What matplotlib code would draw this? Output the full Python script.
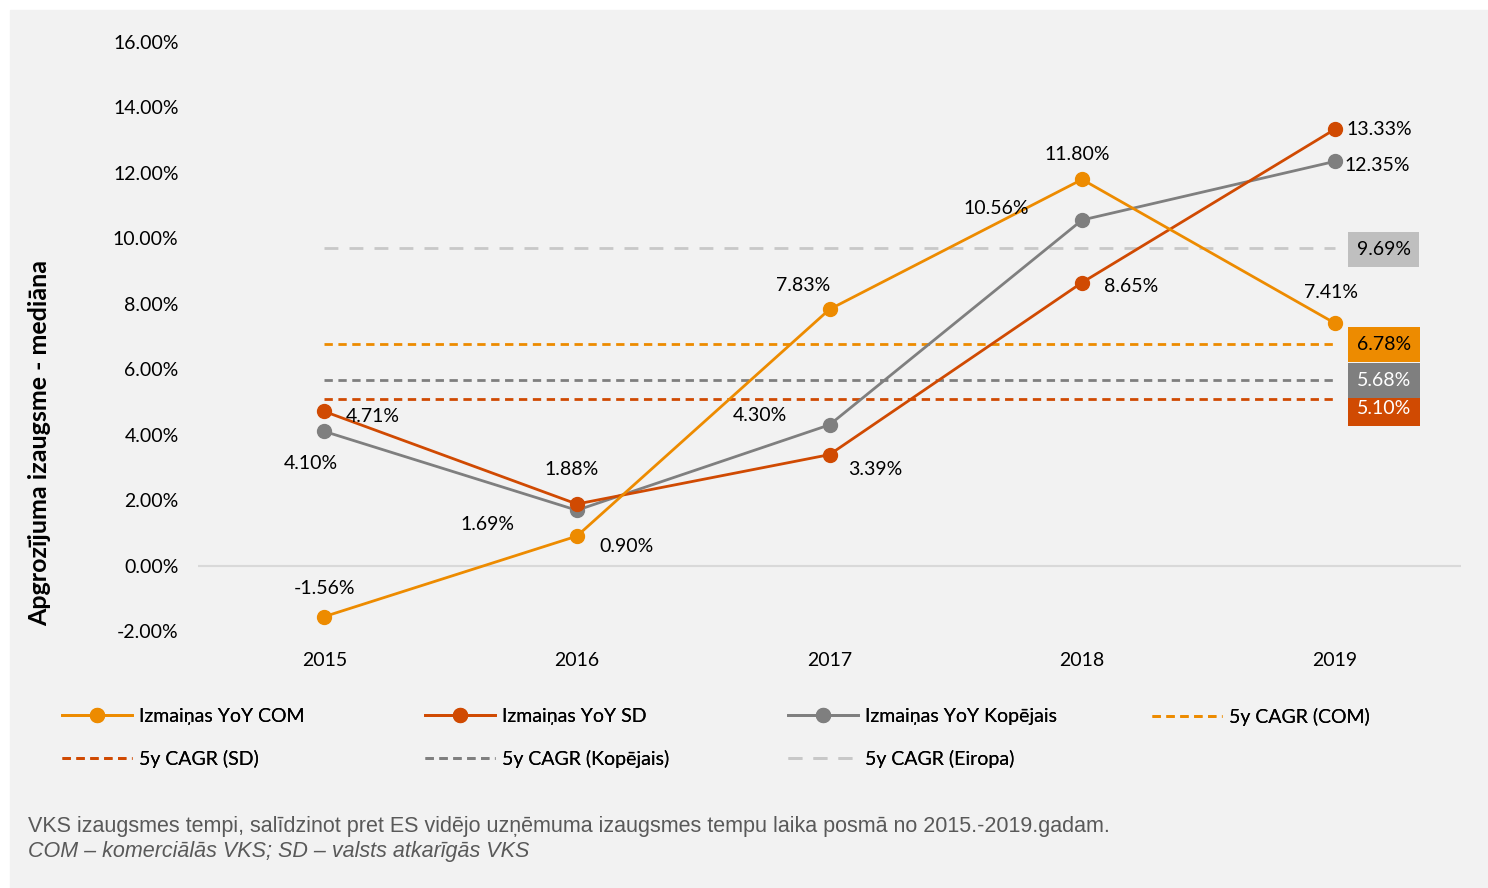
import matplotlib
matplotlib.use("Agg")
import matplotlib.pyplot as plt
from matplotlib.patches import Rectangle
from matplotlib.lines import Line2D

# ---- data ----
years = ["2015", "2016", "2017", "2018", "2019"]
yoy_com = [-1.56, 0.90, 7.83, 11.80, 7.41]
yoy_sd = [4.71, 1.88, 3.39, 8.65, 13.33]
yoy_total = [4.10, 1.69, 4.30, 10.56, 12.35]
cagr_com = 6.78
cagr_sd = 5.10
cagr_total = 5.68
cagr_europe = 9.69
y_ticks = [-2, 0, 2, 4, 6, 8, 10, 12, 14, 16]

ORANGE = "#ed8b00"
RED = "#d04a02"
GREY = "#7f7f7f"
LIGHT = "#c8c8c8"
BG = "#f2f2f2"
FONT = ["Lato", "DejaVu Sans"]
plt.rcParams["font.family"] = FONT

W, H = 1488, 888
fig = plt.figure(figsize=(W / 100, H / 100), dpi=100, facecolor="white")
fig.patches.append(Rectangle((10 / W, 0), 1 - 10 / W, 1 - 10 / H,
                             transform=fig.transFigure, color=BG, zorder=-10))

def fx(px):
    return px / W

def fy(py):
    return 1 - py / H

ax = fig.add_axes([fx(198), fy(631), fx(1461) - fx(198), fy(42) - fy(631)])
ax.set_facecolor("none")
x = list(range(len(years)))
ax.set_xlim(-0.5, 4.5)
ax.set_ylim(-2, 16)
for s in ax.spines.values():
    s.set_visible(False)
ax.axhline(0, color="#d9d9d9", lw=1.5, zorder=1)

ax.set_yticks(y_ticks)
ax.set_yticklabels([f"{v:.2f}%" for v in y_ticks], fontsize=14)
ax.set_xticks(x)
ax.set_xticklabels(years, fontsize=14)
ax.tick_params(axis="both", length=0)
ax.tick_params(axis="y", pad=14)
ax.tick_params(axis="x", pad=15)

# 5-year CAGR reference lines
ax.plot([x[0], x[-1]], [cagr_europe] * 2, color=LIGHT, lw=2, dashes=(5, 4), zorder=2)
ax.plot([x[0], x[-1]], [cagr_com] * 2, color=ORANGE, lw=2, dashes=(3, 2), zorder=2)
ax.plot([x[0], x[-1]], [cagr_total] * 2, color=GREY, lw=2, dashes=(3, 2), zorder=2)
ax.plot([x[0], x[-1]], [cagr_sd] * 2, color=RED, lw=2, dashes=(3, 2), zorder=2)

# year-on-year series
ax.plot(x, yoy_total, color=GREY, lw=2, marker="o", ms=10, zorder=3)
ax.plot(x, yoy_sd, color=RED, lw=2, marker="o", ms=10, zorder=4)
ax.plot(x, yoy_com, color=ORANGE, lw=2, marker="o", ms=10, zorder=5)

def label(series, offsets):
    for xi, v, (dx, dy) in zip(x, series, offsets):
        ax.annotate(f"{v:.2f}%", (xi, v), xytext=(dx, dy - 3),
                    textcoords="offset pixels", ha="center", va="center",
                    fontsize=14, color="#000000", zorder=6)

label(yoy_com, [(0, 31), (50, -7), (-26, 27), (-5, 28), (-4, 34)])
label(yoy_sd, [(48, -2), (-5, 38), (46, -12), (49, -1), (45, 3)])
label(yoy_total, [(-13, -29), (-89, -11), (-70, 12), (-86, 15), (43, -1)])

# boxed CAGR values at the right end
def box(v, fc, tc, dy, z):
    ax.annotate(f"{v:.2f}%", (x[-1], v), xytext=(49, dy - 1),
                textcoords="offset pixels", ha="center", va="center",
                fontsize=14, color=tc, zorder=z,
                bbox=dict(boxstyle="square,pad=0.45", fc=fc, ec="none"))

box(cagr_europe, "#bfbfbf", "#000000", 0, 7)
box(cagr_sd, RED, "white", -9, 7)
box(cagr_total, GREY, "white", 0, 8)
box(cagr_com, ORANGE, "#000000", 0, 9)

# axis title
fig.text(fx(40), fy(443), "Apgrozījuma izaugsme - mediāna", rotation=90,
         ha="center", va="center", fontsize=18, fontweight="bold")

# legend: four columns, two rows
columns = [
    ([Line2D([], [], color=ORANGE, lw=2, marker="o", ms=10),
      Line2D([], [], color=RED, lw=2, dashes=(3, 2))],
     ["Izmaiņas YoY COM", "5y CAGR (SD)"], 62),
    ([Line2D([], [], color=RED, lw=2, marker="o", ms=10),
      Line2D([], [], color=GREY, lw=2, dashes=(3, 2))],
     ["Izmaiņas YoY SD", "5y CAGR (Kopējais)"], 425),
    ([Line2D([], [], color=GREY, lw=2, marker="o", ms=10),
      Line2D([], [], color=LIGHT, lw=2, dashes=(5, 4))],
     ["Izmaiņas YoY Kopējais", "5y CAGR (Eiropa)"], 788),
    ([Line2D([], [], color=ORANGE, lw=2, dashes=(3, 2))],
     ["5y CAGR (COM)"], 1152),
]
for hs, ls, px in columns:
    leg = fig.legend(hs, ls, loc="upper left", bbox_to_anchor=(fx(px), fy(708)),
                     frameon=False, fontsize=14, handlelength=3.6,
                     handletextpad=0.35, labelspacing=1.26, borderpad=0,
                     borderaxespad=0)
    fig.add_artist(leg)

# caption
fig.text(fx(28), fy(826), "VKS izaugsmes tempi, salīdzinot pret ES vidējo uzņēmuma izaugsmes tempu laika posmā no 2015.-2019.gadam.",
         family=["Liberation Sans", "DejaVu Sans"], fontsize=15.5, color="#595959",
         ha="left", va="center")
fig.text(fx(28), fy(851), "COM – komerciālās VKS; SD – valsts atkarīgās VKS",
         family=["Liberation Sans", "DejaVu Sans"], fontsize=15.5, color="#595959",
         style="italic", ha="left", va="center")

fig.savefig("out.png", dpi=100, facecolor=fig.get_facecolor())
